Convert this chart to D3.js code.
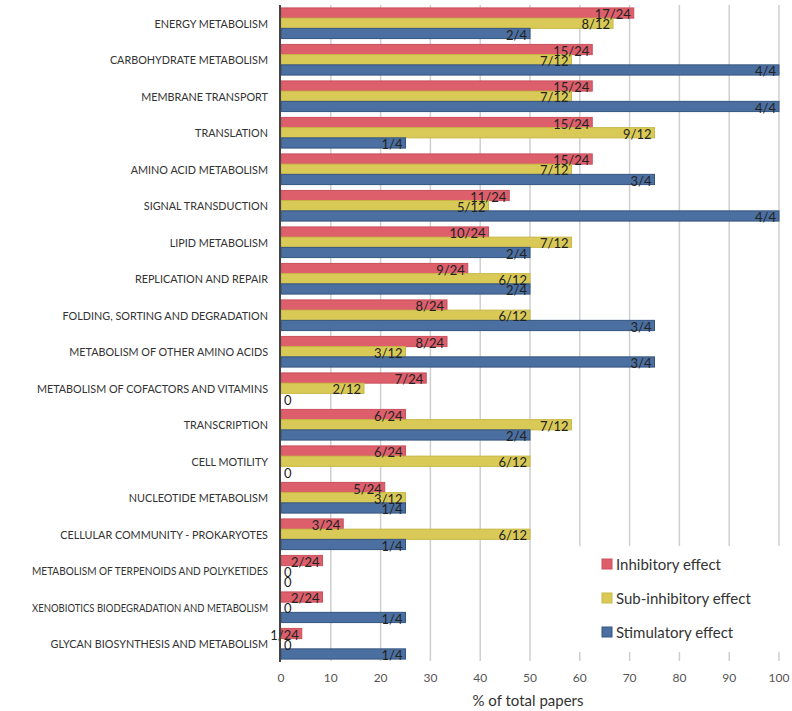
<!DOCTYPE html>
<html><head><meta charset="utf-8">
<script src="https://cdn.jsdelivr.net/npm/d3@7"></script>
<style>body{margin:0;background:#fff}svg{display:block}</style>
</head><body>
<script>
const categories = ["ENERGY METABOLISM","CARBOHYDRATE METABOLISM","MEMBRANE TRANSPORT","TRANSLATION","AMINO ACID METABOLISM","SIGNAL TRANSDUCTION","LIPID METABOLISM","REPLICATION AND REPAIR","FOLDING, SORTING AND DEGRADATION","METABOLISM OF OTHER AMINO ACIDS","METABOLISM OF COFACTORS AND VITAMINS","TRANSCRIPTION","CELL MOTILITY","NUCLEOTIDE METABOLISM","CELLULAR COMMUNITY - PROKARYOTES","METABOLISM OF TERPENOIDS AND POLYKETIDES","XENOBIOTICS BIODEGRADATION AND METABOLISM","GLYCAN BIOSYNTHESIS AND METABOLISM"];
const seriesNames = ["Inhibitory effect","Sub-inhibitory effect","Stimulatory effect"];
const seriesTotals = [24, 12, 4];
const inhibitory    = [17,15,15,15,15,11,10,9,8,8,7,6,6,5,3,2,2,1];
const subInhibitory = [8,7,7,9,7,5,7,6,6,3,2,7,6,3,6,0,0,0];
const stimulatory   = [2,4,4,1,3,4,2,2,3,3,0,2,0,1,1,0,1,1];
const xTicks = [0,10,20,30,40,50,60,70,80,90,100];
const colors = ["#dc5f6b","#d9ca57","#4b6fa0"];
const strokes = ["#c9505c","#c8b845","#34557f"];

const W = 792, H = 711;
const svg = d3.select("body").append("svg").attr("width", W).attr("height", H);
const font = "Lato, 'Open Sans', sans-serif";

const x = d3.scaleLinear().domain([0,100]).range([281,779]);
const y = d3.scaleBand().domain(categories).range([5,662]).paddingInner(0.16).paddingOuter(0.08);
const ys = d3.scaleBand().domain([0,1,2]).range([0, y.bandwidth()]);

const seriesCounts = [inhibitory, subInhibitory, stimulatory];
const data = [];
categories.forEach((c, i) => {
  seriesCounts.forEach((arr, s) => {
    data.push({cat: c, s, n: arr[i], total: seriesTotals[s], v: arr[i] / seriesTotals[s] * 100});
  });
});

// gridlines
svg.append("g").selectAll("line").data(xTicks.slice(1)).join("line")
  .attr("x1", d => x(d)).attr("x2", d => x(d))
  .attr("y1", 5).attr("y2", 661)
  .attr("stroke", "#cfcfcf").attr("stroke-width", 1.5);

// bars
svg.append("g").selectAll("rect").data(data.filter(d => d.n > 0)).join("rect")
  .attr("x", x(0)).attr("y", d => y(d.cat) + ys(d.s))
  .attr("width", d => x(d.v) - x(0)).attr("height", ys.bandwidth())
  .attr("fill", d => colors[d.s]).attr("stroke", d => strokes[d.s]).attr("stroke-width", 1);

// value labels
svg.append("g").selectAll("text").data(data).join("text")
  .attr("x", d => d.n > 0 ? x(d.v) - 3 : x(0) + 3)
  .attr("y", d => y(d.cat) + ys(d.s) + ys.bandwidth() + 1)
  .attr("text-anchor", d => d.n > 0 ? "end" : "start")
  .attr("font-family", font).attr("font-size", 13).attr("fill", "#222")
  .text(d => d.n > 0 ? d.n + "/" + d.total : "0");

// y axis line
svg.append("line").attr("x1", 280).attr("x2", 280).attr("y1", 5).attr("y2", 662)
  .attr("stroke", "#444").attr("stroke-width", 2);

// category labels (narrow, Calibri-like proportions)
svg.append("g").selectAll("text").data(categories).join("text")
  .attr("x", 268).attr("y", d => y(d) + y.bandwidth() / 2 + 4.5)
  .attr("text-anchor", "end").attr("font-family", font).attr("font-size", 12).attr("fill", "#333")
  .text(d => d)
  .each(function() {
    const len = this.getComputedTextLength();
    d3.select(this).attr("textLength", Math.min(len * 0.9, 236)).attr("lengthAdjust", "spacingAndGlyphs");
  });

// x tick labels
svg.append("g").selectAll("text").data(xTicks).join("text")
  .attr("x", d => x(d)).attr("y", 682).attr("text-anchor", "middle")
  .attr("font-family", font).attr("font-size", 12).attr("fill", "#555")
  .text(d => d);

svg.append("text").attr("x", x(50) - 2).attr("y", 706).attr("text-anchor", "middle")
  .attr("font-family", font).attr("font-size", 15).attr("fill", "#333")
  .text("% of total papers");

// legend
const lg = svg.append("g");
lg.append("rect").attr("x", 548).attr("y", 546).attr("width", 244).attr("height", 106).attr("fill", "#fff");
const li = lg.selectAll("g").data(seriesNames).join("g")
  .attr("transform", (d, i) => `translate(602,${564 + i * 34})`);
li.append("rect").attr("x", 0).attr("y", -5).attr("width", 10).attr("height", 10)
  .attr("fill", (d, i) => colors[i]).attr("stroke", (d, i) => strokes[i]);
li.append("text").attr("x", 14).attr("y", 5.5).attr("font-family", font).attr("font-size", 15).attr("fill", "#333")
  .text(d => d);
</script>
</body></html>
